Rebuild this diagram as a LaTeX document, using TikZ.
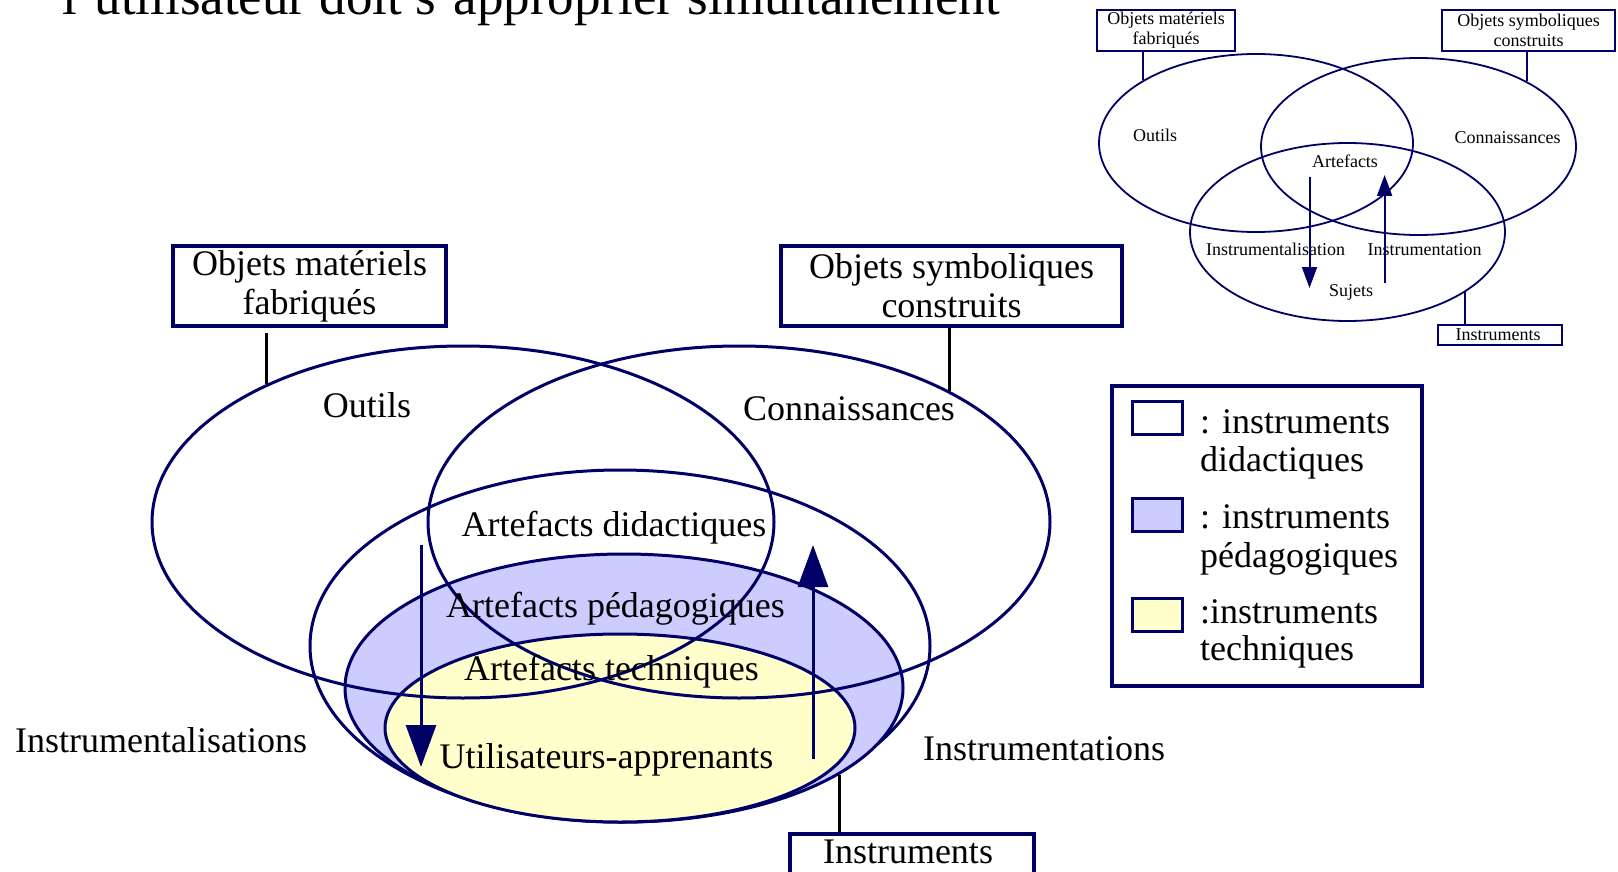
\documentclass[tikz,border=0pt]{standalone}
\usepackage{fontspec}
\setmainfont{Liberation Serif}
\usetikzlibrary{arrows.meta,shapes.geometric}
\definecolor{navy}{RGB}{0,0,102}
\definecolor{pedablue}{RGB}{204,204,255}
\definecolor{techyellow}{RGB}{255,255,204}
\begin{document}
\begin{tikzpicture}[x=1pt,y=-1pt,
  bigtxt/.style={font=\fontsize{36}{39}\selectfont, inner sep=0pt, anchor=base},
  smalltxt/.style={font=\fontsize{18}{20}\selectfont, inner sep=0pt, anchor=base},
  legtxt/.style={font=\fontsize{36}{39}\selectfont, inner sep=0pt, anchor=base west},
  venn/.style={ellipse, draw=navy, line width=3pt, inner sep=0pt},
  smallvenn/.style={ellipse, draw=navy, line width=1.8pt, inner sep=0pt},
  labelbox/.style={rectangle, draw=navy, line width=3.5pt, inner sep=0pt, align=center, font=\fontsize{36}{39}\selectfont},
  smallbox/.style={rectangle, draw=navy, line width=2pt, inner sep=0pt, align=center, font=\fontsize{18}{20}\selectfont},
  swatch/.style={rectangle, draw=navy, line width=3pt, inner sep=0pt, minimum width=50pt, minimum height=33pt},
  blackconn/.style={draw=black, line width=3pt},
  navyconn/.style={draw=navy, line width=2pt},
  bigarrow/.style={draw=navy, line width=3pt, -{Triangle[width=30pt,length=42pt]}},
  smallarrow/.style={draw=navy, line width=2pt, -{Triangle[width=15pt,length=21pt]}}
]
\useasboundingbox (0,0) rectangle (1618,872);
\clip (0,0) rectangle (1618,872);
\fill[white] (0,0) rectangle (1618,872);

% title (cut at the top)
\node[font=\fontsize{53}{60}\selectfont, inner sep=0pt, anchor=base west] (title) at (62,14.5) {l’utilisateur doit s’approprier simultanément};

% ---------- main diagram ----------
\node[venn, minimum width=620pt, minimum height=352pt] (didac) at (620,646) {};
\node[venn, fill=pedablue, minimum width=558pt, minimum height=268pt] (peda) at (624,688) {};
\node[venn, fill=techyellow, minimum width=470pt, minimum height=188pt] (tech) at (620,728) {};
\node[venn, minimum width=622pt, minimum height=352pt] (outils) at (463,522) {};
\node[venn, minimum width=622pt, minimum height=352pt] (conn) at (739,522) {};

\node[labelbox, minimum width=273pt, minimum height=80pt] (omf) at (309.5,286) {Objets matériels\\fabriqués};
\node[labelbox, minimum width=341pt, minimum height=80pt] (osc) at (951.5,286) {Objets symboliques\\construits};
\node[labelbox, minimum width=244pt, minimum height=40pt] (instr) at (912,854) {};

\draw[blackconn, shorten >=5pt] (outils.145.4) -- (outils.145.4 |- omf.south);
\draw[blackconn] (conn.32.3) -- (conn.32.3 |- osc.south);
\draw[blackconn] (peda.338.9) -- (peda.338.9 |- instr.north);

\node[bigtxt] (loutils) at (367,417) {Outils};
\node[bigtxt] (lconn) at (849,420) {Connaissances};
\node[bigtxt] (ldid) at (614,536) {Artefacts didactiques};
\node[bigtxt] (lped) at (615.5,617) {Artefacts pédagogiques};
\node[bigtxt] (ltech) at (611.5,680) {Artefacts techniques};
\node[bigtxt] (luser) at (606.5,768) {Utilisateurs-apprenants};
\node[bigtxt] (linstrl) at (161,752) {Instrumentalisations};
\node[bigtxt] (linstr) at (1044,760) {Instrumentations};
\node[bigtxt] (linstb) at (908,863) {Instruments};

\coordinate (dA) at (421,545);
\coordinate (dB) at (421,767);
\coordinate (uA) at (813,759);
\coordinate (uB) at (813,545);
\draw[bigarrow] (dA) -- (dB);
\draw[bigarrow] (uA) -- (uB);

% ---------- legend ----------
\node[rectangle, draw=navy, line width=3.5pt, minimum width=310pt, minimum height=300pt, inner sep=0pt] (legend) at (1267,536) {};
\node[swatch, fill=white] (sw1) at (1157,417.5) {};
\node[swatch, fill=pedablue] (sw2) at (1157,514.5) {};
\node[swatch, fill=techyellow] (sw3) at (1157,614.5) {};
\node[legtxt] (lg1a) at (1200,433) {: instruments};
\node[legtxt] (lg1b) at (1200,471) {didactiques};
\node[legtxt] (lg2a) at (1200,528) {: instruments};
\node[legtxt] (lg2b) at (1200,567) {pédagogiques};
\node[legtxt] (lg3a) at (1200,623) {:instruments};
\node[legtxt] (lg3b) at (1200,660) {techniques};

% ---------- small diagram ----------
\node[smallvenn, minimum width=314pt, minimum height=178pt] (soutils) at (1256,143) {};
\node[smallvenn, minimum width=315pt, minimum height=177pt] (sconn) at (1418.5,146.5) {};
\node[smallvenn, minimum width=315pt, minimum height=178pt] (ssuj) at (1347.5,232) {};

\node[smallbox, minimum width=138pt, minimum height=41pt] (somf) at (1166,30.5) {Objets matériels\\fabriqués};
\node[smallbox, minimum width=173pt, minimum height=41pt] (sosc) at (1528.5,30.5) {Objets symboliques\\construits};
\node[smallbox, minimum width=124pt, minimum height=20pt] (sinst) at (1500,335) {};

\draw[navyconn] (soutils.151.8) -- (soutils.151.8 |- somf.south);
\draw[navyconn] (sconn.31.0) -- (sconn.31.0 |- sosc.south);
\draw[navyconn] (ssuj.333.3) -- (ssuj.333.3 |- sinst.north);

\node[smalltxt] (sloutils) at (1155,142) {Outils};
\node[smalltxt] (slconn) at (1507.5,144) {Connaissances};
\node[smalltxt] (slart) at (1345,167.5) {Artefacts};
\node[smalltxt] (slinstrl) at (1275.5,255) {Instrumentalisation};
\node[smalltxt] (slinstr) at (1424.7,255) {Instrumentation};
\node[smalltxt] (slsuj) at (1351,296) {Sujets};
\node[smalltxt] (slinstb) at (1498,340.5) {Instruments};

\coordinate (sdA) at (1309.5,177);
\coordinate (sdB) at (1309.5,288);
\coordinate (suA) at (1384.6,283);
\coordinate (suB) at (1384.6,175);
\draw[smallarrow] (sdA) -- (sdB);
\draw[smallarrow] (suA) -- (suB);
\end{tikzpicture}
\end{document}
